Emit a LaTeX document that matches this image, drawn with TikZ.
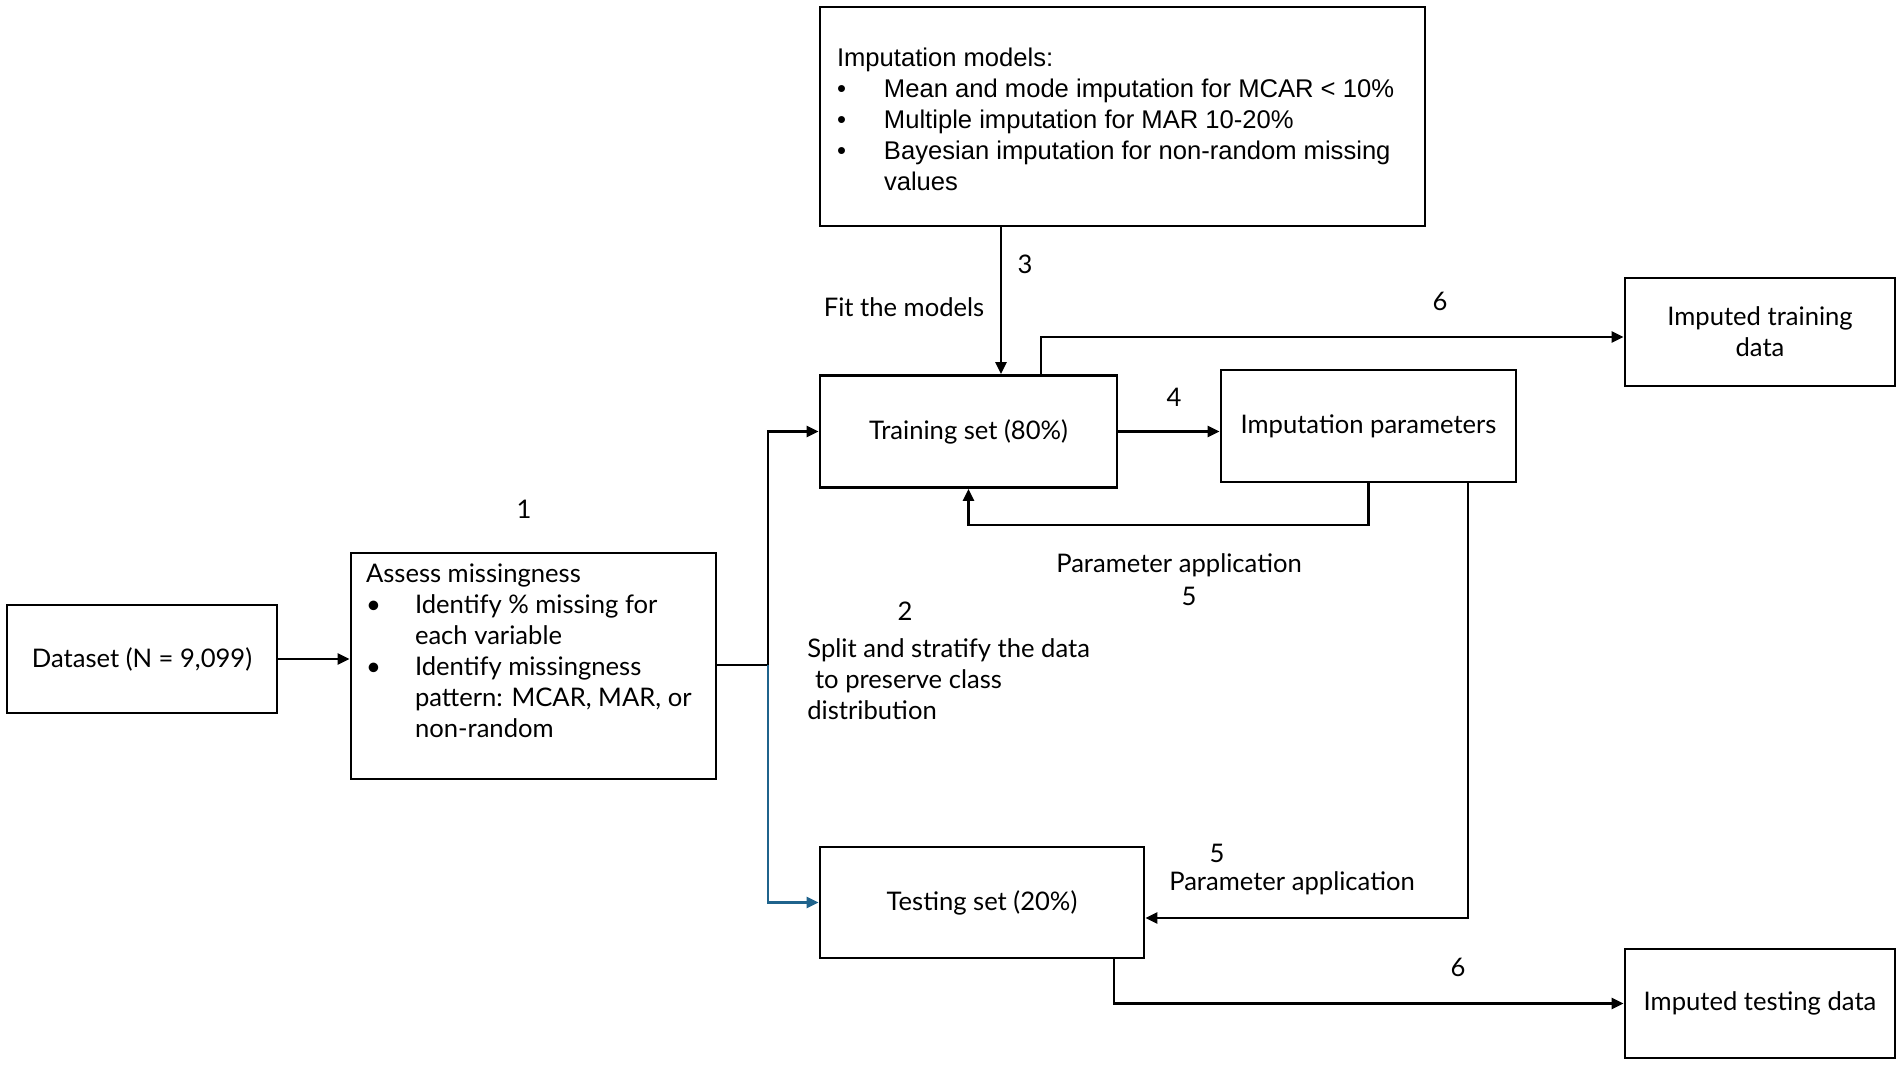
\documentclass[tikz,border=0pt]{standalone}
\usepackage{fontspec}
\setmainfont{Lato}
\newfontfamily\arialfont{Liberation Sans}
\usetikzlibrary{arrows.meta}

\definecolor{splitblue}{RGB}{31,99,140}
\newcommand{\fs}{\fontsize{12.8pt}{15.5pt}\selectfont}
\newlength{\bind}
\newcommand{\bitem}[2]{\par\noindent\setlength{\bind}{#1}\hangindent=\bind\hangafter=1\makebox[\bind][l]{\textbullet}#2}

\begin{document}
\begin{tikzpicture}[x=0.5pt, y=-0.5pt, font=\fs,
  box/.style={draw, line width=1.4pt, inner sep=0pt, align=center},
  arr/.style={-{Triangle[length=6pt,width=5.5pt]}, line width=1.3pt},
  lbl/.style={inner sep=0pt, align=left}
]
  \useasboundingbox (0,0) rectangle (1902,1065);

  % Boxes
  \node[box, minimum width=135pt, minimum height=54pt] (data) at (142,659) {Dataset (N = 9,099)};
  \node[box, inner xsep=7.5pt, inner ysep=2.5pt] (assess) at (533.5,666) {\parbox[c][108pt][t]{167.5pt}{\raggedright
    \vspace*{3pt}Assess missingness
    \bitem{24.5pt}{Identify \% missing for\newline each variable}
    \bitem{24.5pt}{Identify missingness\newline pattern: MCAR, MAR, or\newline non-random}\par}};
  \node[box, inner xsep=8.5pt, minimum height=109.5pt, font=\arialfont\fs] (models) at (1122.5,116.5) {\parbox{285.5pt}{\raggedright
    \vspace*{2.5pt}Imputation models:
    \bitem{23.5pt}{Mean and mode imputation for MCAR < 10\%}
    \bitem{23.5pt}{Multiple imputation for MAR 10-20\%}
    \bitem{23.5pt}{Bayesian imputation for non-random missing\newline values}\par}};
  \node[box, minimum width=148.5pt, minimum height=56pt] (train) at (968.5,431.5) {Training set (80\%)};
  \node[box, minimum width=147.5pt, minimum height=56pt] (params) at (1368.5,426) {Imputation parameters};
  \node[box, minimum width=135pt, minimum height=54pt] (imptrain) at (1760,332) {Imputed training\\data};
  \node[box, minimum width=162pt, minimum height=55.5pt] (test) at (982,902.5) {Testing set (20\%)};
  \node[box, minimum width=135pt, minimum height=54.5pt] (imptest) at (1760,1003.5) {Imputed testing data};

  % Bends
  \coordinate (split) at (768,665);
  \coordinate (fitx) at (1001,0);
  \coordinate (riseA) at (1041,337);
  \coordinate (backy) at (0,525);
  \coordinate (downB) at (1468,918);
  \coordinate (riseB) at (1114,1003.5);

  % Connectors
  \draw[arr] (data.east) -- (data.east -| assess.west);
  \draw[line width=1.3pt] (assess.east |- split) -- (split);
  \draw[arr] (split) |- (train.west);
  \draw[arr, splitblue] (split) |- (test.west);
  \draw[arr] (models.south -| fitx) -- (train.north -| fitx);
  \draw[arr] (train.north -| riseA) -- (riseA) -- (riseA -| imptrain.west);
  \draw[arr] (train.east) -- (train.east -| params.west);
  \draw[arr] (params.south) -- (params.south |- backy) -| (train.south);
  \draw[arr] (params.south -| downB) -- (downB) -- (downB -| test.east);
  \draw[arr] (test.south -| riseB) |- (imptest.west);

  % Labels
  \node (n1) at (524,509) {1};
  \node (n2) at (905,611) {2};
  \node[lbl, anchor=north west] (splitlbl) at (807,638) {Split and stratify the data\\\hspace{0.3em}to preserve class\\distribution};
  \node (fitlbl) at (904,307) {Fit the models};
  \node (n3) at (1025,264) {3};
  \node (n6a) at (1440,301) {6};
  \node (n4) at (1174,397) {4};
  \node (app1) at (1179,565) {Parameter application};
  \node (n5a) at (1189,596) {5};
  \node (n5b) at (1217,853) {5};
  \node (app2) at (1292,883) {Parameter application};
  \node (n6b) at (1458,967) {6};
\end{tikzpicture}
\end{document}
